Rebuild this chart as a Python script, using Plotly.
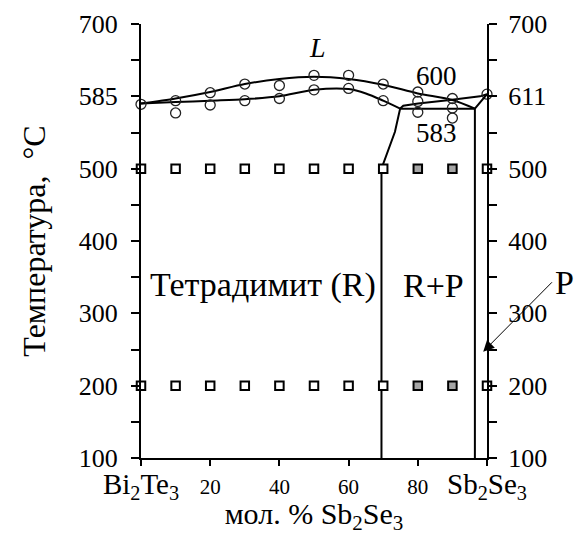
import plotly.graph_objects as go

# --- phase diagram data: Bi2Te3 – Sb2Se3 (mol. % Sb2Se3, temperature °C) ---
liquidus_x = [0, 10, 20, 30, 40, 50, 60, 70, 80, 90, 96.5]
liquidus_T = [590, 597, 606, 617, 624, 627, 624, 616, 604, 595, 583]

solidus_x = [0, 10, 20, 30, 40, 50, 60, 65, 70, 74.9]
solidus_T = [590, 592, 594, 596, 600, 609, 610, 604, 594, 583]

# boundary of the tetradymite (R) field, continuing to the Sb2Se3 melting point
r_bound_x = [69.5, 69.5, 73.4, 74.9, 75.8, 80.1, 89.3, 98, 100]
r_bound_T = [100, 500, 551, 583, 587, 590, 595, 600, 603]

# boundary of the Sb2Se3-based (P) field
p_bound_x = [96.5, 96.5, 100]
p_bound_T = [100, 583, 603]

# invariant horizontal
inv_x = [74.9, 96.5]
inv_T = [583, 583]

# thermal analysis effects (open circles)
dta_x = [0, 10, 10, 20, 20, 30, 30, 40, 40, 50, 50, 60, 60, 70, 70,
         80, 80, 80, 90, 90, 90, 100]
dta_T = [589, 594, 577, 605, 588, 617, 594, 615, 597, 629, 609, 629, 611,
         617, 594, 606, 593, 578, 597, 584, 570, 603]

# annealed samples (squares): single phase = white, two phase = grey
anneal_x = [0, 10, 20, 30, 40, 50, 60, 70, 80, 90, 100]
anneal_levels = [500, 200]
two_phase = [False, False, False, False, False, False, False, False, True, True, False]

x_ticks = [0, 20, 40, 60, 80, 100]
x_ticktext = ["<span style='font-size:29px'>Bi<sub>2</sub>Te<sub>3</sub></span>",
              "20", "40", "60", "80",
              "<span style='font-size:29px'>Sb<sub>2</sub>Se<sub>3</sub></span>"]
y_ticks = [100, 200, 300, 400, 500, 600, 700]
y_ticktext_left = ["100", "200", "300", "400", "500", "585", "700"]
y_ticktext_right = ["100", "200", "300", "400", "500", "611", "700"]
y_minor = [150, 250, 350, 450, 550, 650]

FONT = "Liberation Serif"
LINE = dict(color="black", width=2)

fig = go.Figure()

fig.add_trace(go.Scatter(x=liquidus_x, y=liquidus_T, mode="lines",
                         line=dict(color="black", width=2, shape="spline", smoothing=0.8),
                         hoverinfo="skip"))
fig.add_trace(go.Scatter(x=solidus_x, y=solidus_T, mode="lines",
                         line=dict(color="black", width=2, shape="spline", smoothing=0.8),
                         hoverinfo="skip"))
fig.add_trace(go.Scatter(x=r_bound_x, y=r_bound_T, mode="lines", line=LINE,
                         hoverinfo="skip"))
fig.add_trace(go.Scatter(x=inv_x, y=inv_T, mode="lines", line=LINE, hoverinfo="skip"))
fig.add_trace(go.Scatter(x=p_bound_x, y=p_bound_T, mode="lines", line=LINE,
                         hoverinfo="skip", yaxis="y2"))

fig.add_trace(go.Scatter(x=dta_x, y=dta_T, mode="markers",
                         marker=dict(symbol="circle-open", size=10,
                                     line=dict(color="#222", width=1.3), color="#222"),
                         cliponaxis=False, hoverinfo="skip"))

for level in anneal_levels:
    fig.add_trace(go.Scatter(
        x=anneal_x, y=[level] * len(anneal_x), mode="markers",
        marker=dict(symbol="square", size=8.5,
                    color=["#a6a6a6" if tp else "white" for tp in two_phase],
                    line=dict(color="black", width=2)),
        cliponaxis=False, hoverinfo="skip"))

txt = dict(family=FONT, color="black")
fig.add_annotation(x=51, y=668, text="<i>L</i>", showarrow=False,
                   font=dict(size=28, **txt))
fig.add_annotation(x=85.5, y=628, text="600", showarrow=False, font=dict(size=27, **txt))
fig.add_annotation(x=85.5, y=549, text="583", showarrow=False, font=dict(size=27, **txt))
fig.add_annotation(x=35.3, y=339, text="Тетрадимит (R)", showarrow=False,
                   font=dict(size=34, **txt))
fig.add_annotation(x=84.4, y=339, text="R+P", showarrow=False, font=dict(size=34, **txt))
# label of the P field sits outside the axes, so it is placed in paper units
fig.add_annotation(xref="paper", x=1.225, y=342, xanchor="center", text="P",
                   showarrow=False, font=dict(size=34, **txt))
fig.add_annotation(x=98.9, y=247, ax=119.2, ay=345, axref="x", ayref="y",
                   text="", showarrow=True, arrowhead=2, arrowsize=2.2,
                   arrowwidth=1, arrowcolor="black", standoff=0)

axis_common = dict(showline=True, linecolor="black", linewidth=2, ticks="outside",
                   ticklen=8, tickwidth=2, tickcolor="black", showgrid=False,
                   zeroline=False, automargin=False)

fig.update_layout(
    width=579, height=535,
    margin=dict(l=141, r=92, t=24, b=77),
    paper_bgcolor="white", plot_bgcolor="white",
    showlegend=False,
    font=dict(family=FONT, color="black"),
    xaxis=dict(range=[0, 100], tickvals=x_ticks, ticktext=x_ticktext,
               tickfont=dict(size=21, family=FONT, color="black"), ticklen=6,
               ticklabelstandoff=3,
               title=dict(text="мол. % Sb<sub>2</sub>Se<sub>3</sub>",
                          font=dict(size=30, family=FONT, color="black"), standoff=8),
               **{k: v for k, v in axis_common.items() if k != "ticklen"}),
    yaxis=dict(range=[100, 700], tickvals=y_ticks, ticktext=y_ticktext_left,
               tickfont=dict(size=26, family=FONT, color="black"), ticklabelstandoff=8,
               minor=dict(tickvals=y_minor, ticklen=8, tickwidth=2, tickcolor="black",
                          ticks="outside"),
               title=dict(text="Температура,  °C",
                          font=dict(size=32, family=FONT, color="black"), standoff=24),
               **axis_common),
    yaxis2=dict(range=[100, 700], overlaying="y", side="right", anchor="x",
                tickvals=y_ticks, ticktext=y_ticktext_right,
                tickfont=dict(size=26, family=FONT, color="black"), ticklabelstandoff=6,
                minor=dict(tickvals=y_minor, ticklen=8, tickwidth=2, tickcolor="black",
                           ticks="outside"),
                **axis_common),
)

fig.write_html("out.html")
